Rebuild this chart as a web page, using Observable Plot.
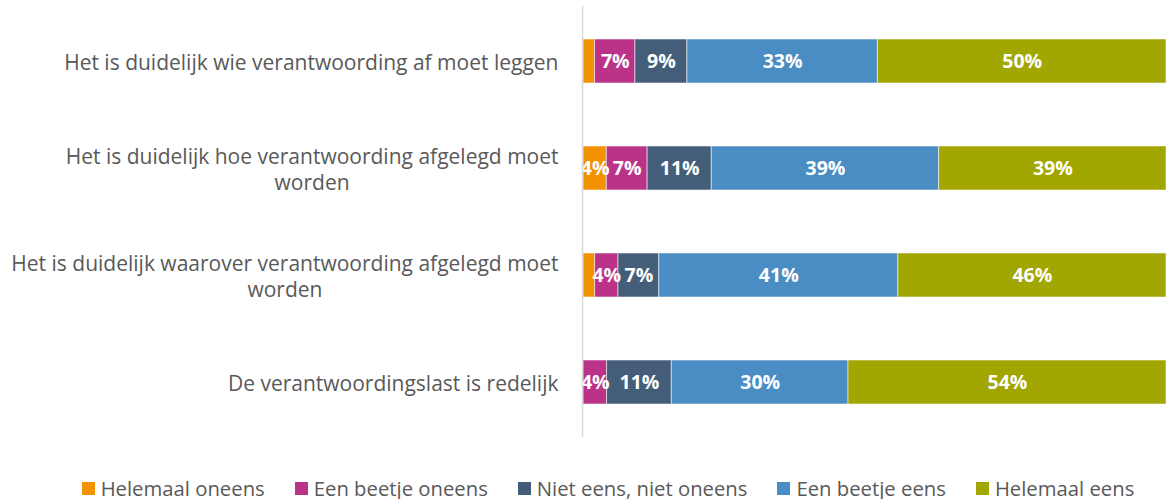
<!DOCTYPE html>
<html><head><meta charset="utf-8">
<script src="https://cdn.jsdelivr.net/npm/d3@7"></script>
<script src="https://cdn.jsdelivr.net/npm/@observablehq/plot@0.6"></script>
<style>
body{margin:0;background:#fff;font-family:"Open Sans", sans-serif;}
#chart svg{display:block;}
#legend{display:flex;justify-content:center;gap:30px;font-size:20.3px;line-height:22px;color:#595959;margin-top:27px;padding-left:48px;}
#legend .item{display:flex;align-items:center;gap:6px;}
#legend .sw{width:13px;height:13px;display:inline-block;}
</style></head><body>
<div id="chart"></div>
<div id="legend"></div>
<script>
const categories = [
  "Het is duidelijk wie verantwoording af moet leggen",
  "Het is duidelijk hoe verantwoording afgelegd moet\nworden",
  "Het is duidelijk waarover verantwoording afgelegd moet\nworden",
  "De verantwoordingslast is redelijk"
];
const series = ["Helemaal oneens", "Een beetje oneens", "Niet eens, niet oneens", "Een beetje eens", "Helemaal eens"];
const colors = ["#f39200", "#bb3289", "#445e79", "#4a8dc4", "#a2a600"];
const helemaalOneens   = [2, 4, 2, 0];
const beetjeOneens     = [7, 7, 4, 4];
const nietEensNiet     = [9, 11, 7, 11];
const beetjeEens       = [33, 39, 41, 30];
const helemaalEens     = [50, 39, 46, 54];

const valuesBySeries = [helemaalOneens, beetjeOneens, nietEensNiet, beetjeEens, helemaalEens];
const data = [];
categories.forEach((c, i) => series.forEach((s, j) => data.push({cat: c, series: s, value: valuesBySeries[j][i]})));

const plot = Plot.plot({
  width: 1168,
  height: 450,
  marginLeft: 583,
  marginRight: 2,
  marginTop: 6,
  marginBottom: 13,
  style: {fontFamily: "'Open Sans', sans-serif", background: "#fff"},
  x: {axis: null, domain: [0, 1]},
  y: {domain: categories, paddingInner: 0.59, paddingOuter: 0.295, label: null},
  color: {domain: series, range: colors},
  marks: [
    Plot.barX(data, Plot.stackX({x: "value", y: "cat", fill: "series", order: series, offset: "normalize",
      stroke: "#ffffff", strokeOpacity: 0.55, strokeWidth: 1})),
    Plot.textX(data, Plot.stackX({x: "value", y: "cat", z: "series", order: series, offset: "normalize",
      text: d => d.value >= 3 ? d.value + "%" : "", fill: "white", fontWeight: "bold", fontSize: 19.5})),
    Plot.axisY({tickSize: 0, tickPadding: 25, fontSize: 21, lineHeight: 1.25, fill: "#595959", label: null}),
    Plot.ruleX([0], {stroke: "#d9d9d9", strokeWidth: 1.5, dx: -1})
  ]
});
document.getElementById("chart").appendChild(plot);

// center multi-line category labels as a block, right-aligned
plot.querySelectorAll("g[aria-label='y-axis tick label'] text").forEach(t => {
  const tspans = t.querySelectorAll("tspan");
  if (tspans.length > 1) {
    const ws = Array.from(tspans).map(ts => ts.getComputedTextLength());
    const maxW = Math.max(...ws);
    tspans.forEach((ts, k) => ts.setAttribute("x", -(maxW - ws[k]) / 2));
  }
});

const legend = document.getElementById("legend");
series.forEach((s, i) => {
  const it = document.createElement("span");
  it.className = "item";
  it.innerHTML = `<span class="sw" style="background:${colors[i]}"></span><span>${s}</span>`;
  legend.appendChild(it);
});
</script>
</body></html>
